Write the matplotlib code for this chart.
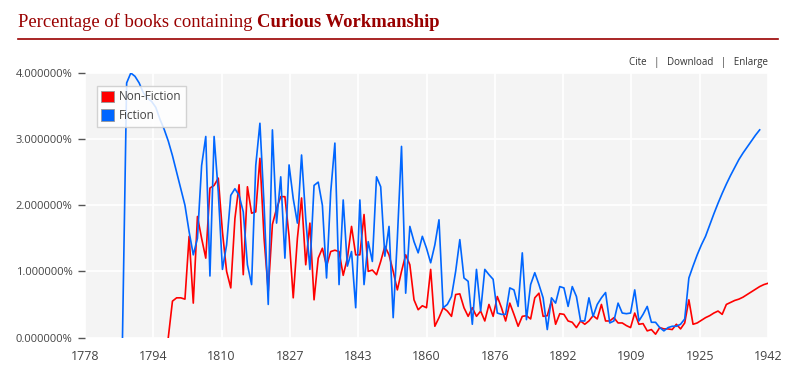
import numpy as np
import matplotlib
matplotlib.use('Agg')
import matplotlib.pyplot as plt
import matplotlib.patches as mpatches

# Fiction, percentage of books per year
fic_years = list(range(1787, 1941))
fic_vals = [0.0, 3.85, 4.0, 3.95, 3.85, 3.7, 3.62, 3.57, 3.48, 3.3,
            3.15, 2.97, 2.75, 2.5, 2.25, 2.0, 1.6, 1.25, 1.5, 2.6,
            3.04, 0.93, 3.04, 2.2, 1.03, 1.4, 2.15, 2.25, 2.15, 1.9,
            1.1, 0.8, 2.6, 3.24, 2.0, 0.5, 3.14, 1.73, 2.43, 1.2,
            2.61, 2.1, 1.73, 2.76, 1.8, 1.03, 2.3, 2.35, 2.0, 0.9,
            2.2, 2.94, 0.8, 2.08, 1.08, 1.3, 0.45, 2.08, 0.8, 1.45,
            1.15, 2.43, 2.28, 1.23, 1.68, 0.3, 1.5, 2.89, 0.67, 1.68,
            1.45, 1.28, 1.53, 1.35, 1.13, 1.4, 1.78, 0.45, 0.5, 0.62,
            1.0, 1.48, 0.9, 0.85, 0.2, 1.03, 0.4, 1.03, 0.95, 0.88,
            0.37, 0.35, 0.35, 0.75, 0.72, 0.47, 1.28, 0.27, 0.8, 0.98,
            0.8, 0.6, 0.12, 0.6, 0.52, 0.77, 0.75, 0.47, 0.77, 0.62,
            0.25, 0.25, 0.6, 0.32, 0.5, 0.6, 0.68, 0.22, 0.25, 0.52,
            0.37, 0.36, 0.37, 0.72, 0.25, 0.35, 0.47, 0.23, 0.23, 0.15,
            0.1, 0.15, 0.17, 0.17, 0.2, 0.28, 0.9, 1.08, 1.25, 1.4,
            1.53, 1.7, 1.87, 2.03, 2.18, 2.32, 2.45, 2.57, 2.69, 2.79,
            2.88, 2.97, 3.06, 3.14]

# Non-Fiction
nf_years = list(range(1798, 1943))
nf_vals = [0.0, 0.55, 0.6, 0.6, 0.58, 1.53, 0.52, 1.83, 1.5, 1.2,
           2.26, 2.3, 2.41, 1.6, 1.0, 0.75, 1.8, 2.31, 0.95, 2.28,
           1.88, 1.9, 2.71, 1.5, 0.7, 1.71, 1.95, 2.13, 2.13, 1.53,
           0.6, 1.5, 2.11, 1.1, 1.73, 0.57, 1.2, 1.35, 1.08, 1.3,
           1.32, 1.3, 0.94, 1.2, 1.68, 1.25, 1.25, 1.86, 1.0, 1.02,
           0.95, 1.15, 1.38, 1.25, 1.0, 0.72, 1.0, 1.25, 1.1, 0.57,
           0.42, 0.48, 0.45, 1.03, 0.17, 0.3, 0.45, 0.4, 0.32, 0.65,
           0.66, 0.45, 0.32, 0.45, 0.32, 0.4, 0.25, 0.5, 0.32, 0.62,
           0.45, 0.25, 0.52, 0.35, 0.17, 0.32, 0.33, 0.28, 0.6, 0.67,
           0.32, 0.33, 0.55, 0.2, 0.36, 0.35, 0.25, 0.23, 0.15, 0.25,
           0.2, 0.25, 0.33, 0.28, 0.5, 0.25, 0.25, 0.3, 0.22, 0.22,
           0.18, 0.15, 0.37, 0.2, 0.21, 0.1, 0.12, 0.05, 0.15, 0.13,
           0.13, 0.12, 0.2, 0.13, 0.22, 0.57, 0.2, 0.22, 0.26, 0.3,
           0.33, 0.37, 0.4, 0.35, 0.5, 0.53, 0.56, 0.58, 0.61, 0.65,
           0.69, 0.73, 0.77, 0.8, 0.82]

y_ticks = [0, 1, 2, 3, 4]
x_ticks = np.linspace(1778, 1942, 11)

W, H = 796, 383
fig = plt.figure(figsize=(W / 100, H / 100), dpi=100, facecolor='w')
ax = fig.add_axes([85 / W, 1 - 337.5 / H, (768 - 85) / W, (337.5 - 73) / H])
ax.set_facecolor('#f4f4f4')

ax.plot(nf_years, nf_vals, color='#ff0000', lw=1.2, solid_joinstyle='round')
ax.plot(fic_years, fic_vals, color='#0066ff', lw=1.2, solid_joinstyle='round')

ax.set_xlim(1778, 1942)
ax.set_ylim(0, 4)
ax.set_xticks(x_ticks)
ax.set_xticklabels([str(int(t)) for t in x_ticks])
ax.set_yticks(y_ticks)
ax.set_yticklabels(['%.6f%%' % v for v in y_ticks])
ax.grid(color='white', lw=1.3)
ax.set_axisbelow(True)
for s in ax.spines.values():
    s.set_visible(False)
ax.tick_params(axis='y', length=5, width=1, color='#555555', pad=4,
               labelsize=8, labelcolor='#444444')
ax.tick_params(axis='x', length=0, pad=9, labelsize=9, labelcolor='#444444')
for lab in ax.get_xticklabels() + ax.get_yticklabels():
    lab.set_family('Open Sans')

patchs = [mpatches.Patch(facecolor='#ff0000', edgecolor='#999999', lw=0.6, label='Non-Fiction'),
          mpatches.Patch(facecolor='#0066ff', edgecolor='#999999', lw=0.6, label='Fiction')]
leg = ax.legend(handles=patchs, loc='upper left', bbox_to_anchor=(11.5 / 683, 1 - 12.5 / 264.5),
                fancybox=False, framealpha=0.85, edgecolor='#cccccc',
                prop={'family': 'Open Sans', 'size': 8.5}, handlelength=1.1, handleheight=1.1,
                handletextpad=0.4, borderpad=0.4, labelspacing=0.5, borderaxespad=0)
for t in leg.get_texts():
    t.set_color('#444444')

# title in two parts
red = '#990000'
t1 = fig.text(18 / W, 1 - 27 / H, 'Percentage of books containing ', color=red,
              fontsize=13.4, family='Liberation Serif', va='baseline')
fig.canvas.draw()
bb = t1.get_window_extent(fig.canvas.get_renderer())
fig.text(bb.x1 / W, 1 - 27 / H, 'Curious Workmanship', color=red,
         fontsize=13.4, family='Liberation Serif', weight='bold', va='baseline')
fig.add_artist(plt.Line2D([18 / W, 778 / W], [1 - 38.5 / H, 1 - 38.5 / H],
                          color=red, lw=1.2, transform=fig.transFigure))

fig.text(768 / W, 1 - 63 / H, 'Cite   |   Download   |   Enlarge', color='#333333',
         fontsize=7, family='Open Sans', ha='right', va='center')

fig.savefig('out.png', dpi=100, facecolor='w')
